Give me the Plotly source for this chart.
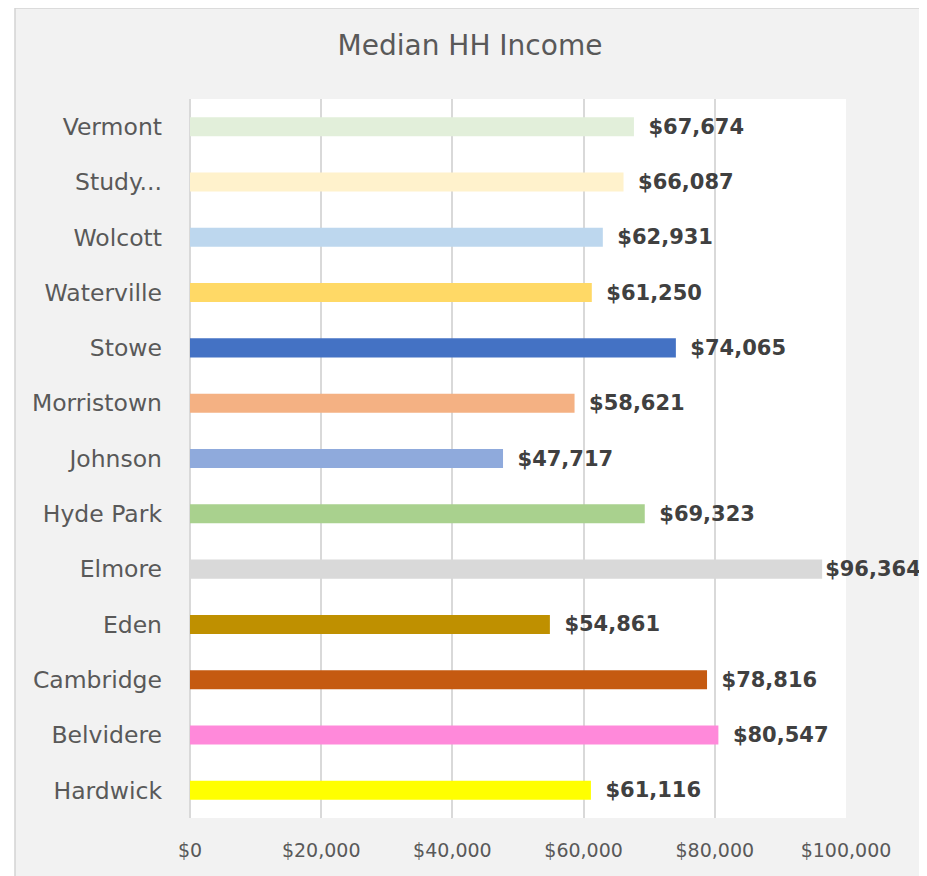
import plotly.graph_objects as go

categories = ["Vermont", "Study...", "Wolcott", "Waterville", "Stowe", "Morristown",
              "Johnson", "Hyde Park", "Elmore", "Eden", "Cambridge", "Belvidere", "Hardwick"]
values = [67674, 66087, 62931, 61250, 74065, 58621, 47717, 69323, 96364, 54861, 78816, 80547, 61116]
colors = ["#e2efda", "#fff2cc", "#bdd7ee", "#ffd966", "#4472c4", "#f4b183", "#8faadc",
          "#a9d18e", "#d9d9d9", "#bf9000", "#c55a11", "#ff89da", "#ffff00"]
x_ticks = [0, 20000, 40000, 60000, 80000, 100000]
x_tick_labels = ["$0", "$20,000", "$40,000", "$60,000", "$80,000", "$100,000"]
title_text = "Median HH Income"

OFF = 8  # page body margin
W, H = 927 - OFF, 876 - OFF
L, R, T, B = 190 - OFF, 846 - OFF, 99 - OFF, 818 - OFF
FONT = "DejaVu Sans"


def px(x):
    # page pixel -> paper x
    return (x - OFF - L) / (R - L)


def py(y):
    # page pixel -> paper y
    return (B - (y - OFF)) / (B - T)


templates = ["\u00a0\u2009$%{x:,}" if v < 90000 else "$%{x:,}" for v in values]

fig = go.Figure(go.Bar(
    x=values, y=categories, orientation="h",
    marker=dict(color=colors, line=dict(width=0)),
    texttemplate=templates, textposition="outside", constraintext="none",
    cliponaxis=False,
    textfont=dict(family=FONT, size=21, color="#404040", weight="bold"),
    hoverinfo="skip",
))

shapes = [
    dict(type="rect", xref="paper", yref="paper", x0=px(0), x1=px(15), y0=py(900), y1=py(0),
         fillcolor="white", line=dict(width=0), layer="below"),
    dict(type="rect", xref="paper", yref="paper", x0=px(15), x1=px(922), y0=py(900), y1=py(8),
         fillcolor="rgba(0,0,0,0)", line=dict(color="#d4d4d4", width=1.5), layer="below"),
]

fig.update_layout(
    width=W, height=H,
    margin=dict(l=L, r=W - R, t=T, b=H - B),
    paper_bgcolor="#f2f2f2", plot_bgcolor="white",
    bargap=0.656,
    showlegend=False,
    title=dict(text=title_text, x=(470 - OFF) / W, xref="container", xanchor="center",
               y=1 - (45 - OFF) / H, yref="container", yanchor="middle",
               font=dict(family=FONT, size=28, color="#595959")),
    xaxis=dict(range=[0, 100000], tickvals=x_ticks, ticktext=x_tick_labels,
               showgrid=True, gridcolor="#d9d9d9", gridwidth=1.5,
               zeroline=True, zerolinecolor="#d9d9d9", zerolinewidth=1.5,
               showline=False, ticks="", ticklabelstandoff=19,
               tickfont=dict(family=FONT, size=19, color="#595959"), fixedrange=True),
    yaxis=dict(categoryorder="array", categoryarray=categories[::-1],
               showgrid=False, zeroline=False, showline=False, ticks="",
               ticklabelstandoff=27,
               tickfont=dict(family=FONT, size=23.5, color="#595959"), fixedrange=True),
    shapes=shapes,
)

fig.write_html("out.html")
